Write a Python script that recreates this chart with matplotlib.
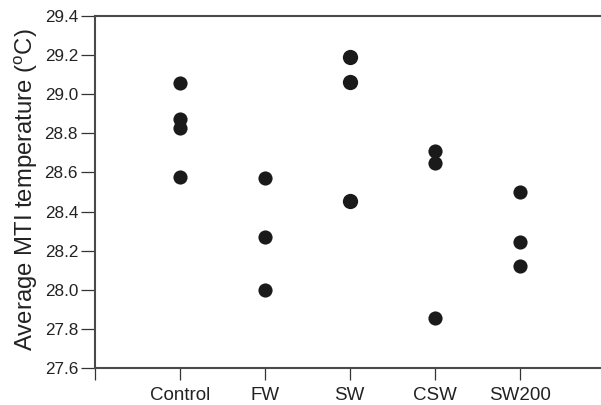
import matplotlib
matplotlib.use("Agg")
import matplotlib.pyplot as plt

plt.rcParams['font.family'] = ['Liberation Sans', 'DejaVu Sans']
plt.rcParams['mathtext.fontset'] = 'custom'
plt.rcParams['mathtext.rm'] = 'Liberation Sans'

categories = ["Control", "FW", "SW", "CSW", "SW200"]
control = [29.055, 28.871, 28.828, 28.575]
fw = [28.570, 28.272, 27.998]
sw = [29.188, 29.063, 28.454]
csw = [28.711, 28.647, 27.858]
sw200 = [28.500, 28.243, 28.121]
series = [control, fw, sw, csw, sw200]
yticks = [27.6, 27.8, 28.0, 28.2, 28.4, 28.6, 28.8, 29.0, 29.2, 29.4]

fig = plt.figure(figsize=(6.01, 4.05), dpi=100)
ax = fig.add_axes([94.7/601, 36.7/405, 6*85/601, (389.3-36.7)/405])

for i, vals in enumerate(series, start=1):
    ax.plot([i]*len(vals), vals, 'o', color='#1a1a1a', markersize=10.2 if i != 3 else 11, markeredgewidth=0, clip_on=False)

ax.set_xlim(0, 6)
ax.set_ylim(27.6, 29.4)
ax.set_xticks(range(0, 6))
ax.set_xticklabels([""] + categories)
ax.set_yticks(yticks)
ax.set_yticklabels([f"{v:.1f}" for v in yticks])

for s in ['left', 'bottom', 'top']:
    ax.spines[s].set_color('#4a4a4a')
    ax.spines[s].set_linewidth(1.5)
ax.spines['right'].set_visible(False)

ax.tick_params(axis='both', direction='out', width=0.9, color='#333333',
               labelcolor='#222222')
ax.tick_params(axis='y', labelsize=12.3, pad=2, length=10)
ax.tick_params(axis='x', labelsize=13.5, pad=5, length=8.5)

ax.set_ylabel(r'Average MTI temperature ($^{\rm o}$C)', fontsize=17.2, color='#222222', labelpad=3)
ax.yaxis.label.set_y(0.507)

fig.savefig("out.png", dpi=100)
